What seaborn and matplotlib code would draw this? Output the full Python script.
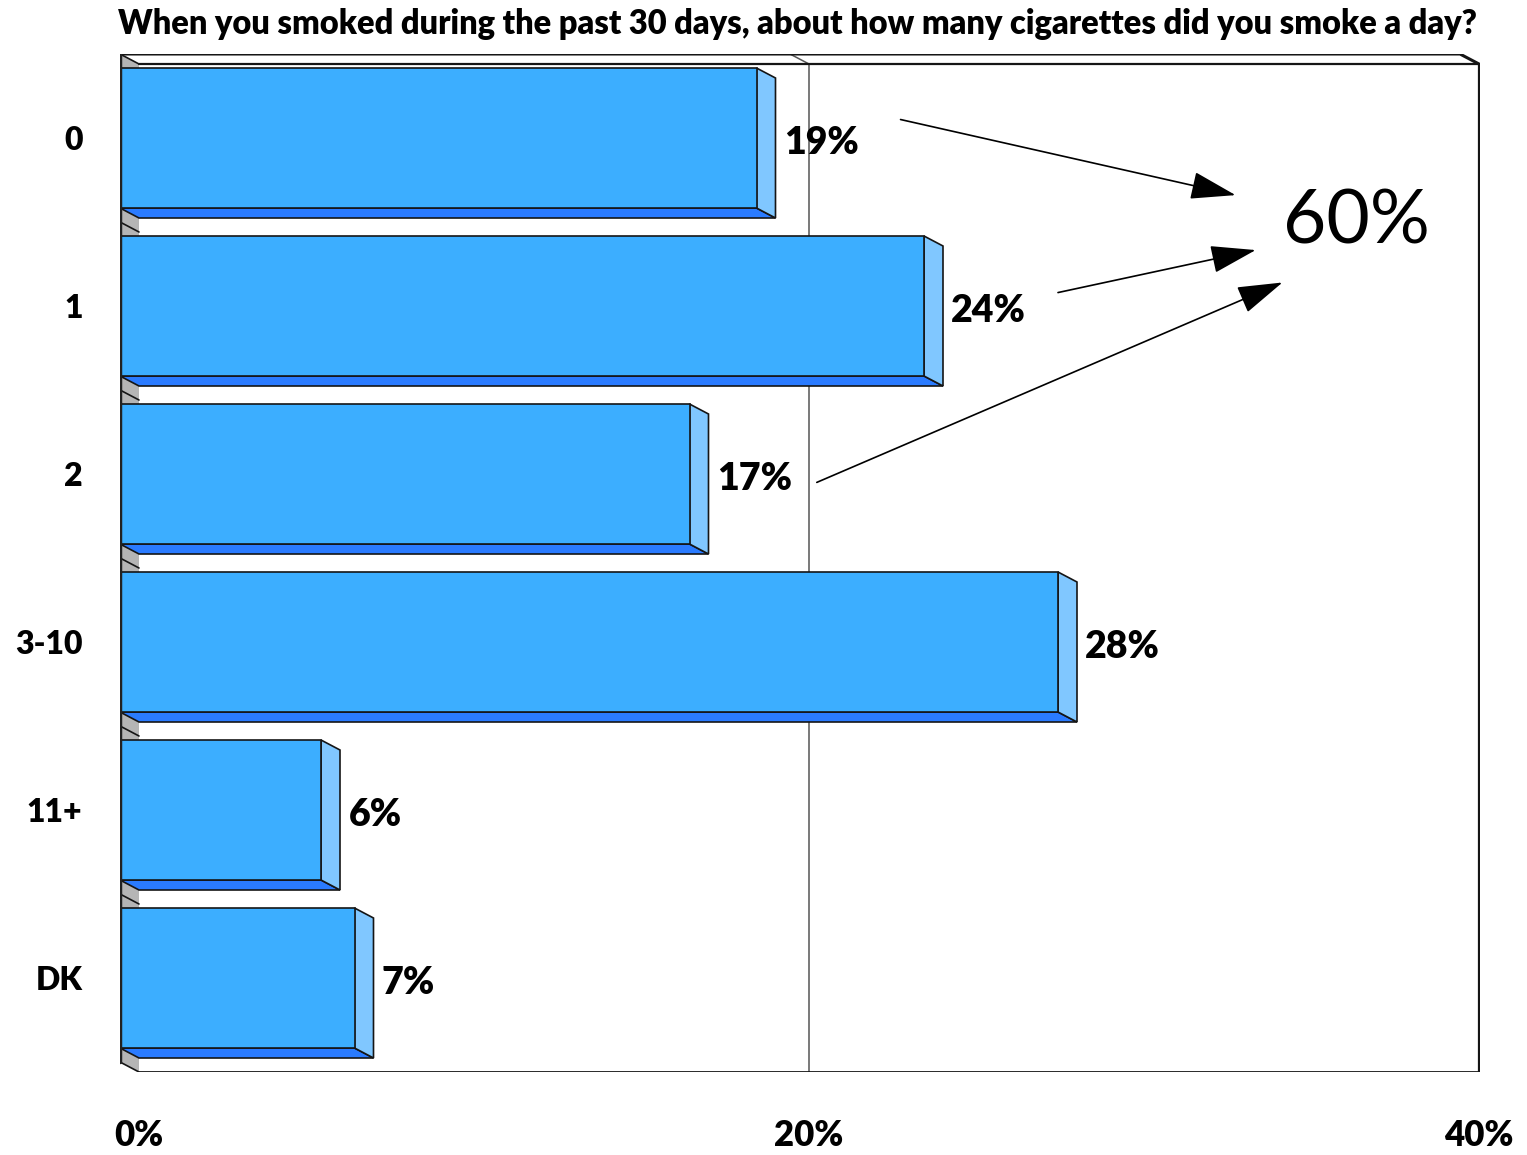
import matplotlib
matplotlib.use('Agg')
import matplotlib.pyplot as plt
from matplotlib.patches import Polygon
import numpy as np
import pandas as pd
import seaborn as sns

# data
cats = ['0', '1', '2', '3-10', '11+', 'DK']
pct = [19, 24, 17, 28, 6, 7]
xtick_vals = [0, 20, 40]
xtick_labels = ['0%', '20%', '40%']
title = 'When you smoked during the past 30 days, about how many cigarettes did you smoke a day?'
total_label = '60%'

df = pd.DataFrame({'cat': cats, 'pct': pct})

sns.set_style('white')
plt.rcParams['font.family'] = ['Lato', 'DejaVu Sans']
plt.rcParams['text.color'] = 'black'
plt.rcParams['xtick.color'] = 'black'
plt.rcParams['ytick.color'] = 'black'

W, H = 1527, 1155
fig = plt.figure(figsize=(W / 100, H / 100), dpi=100)

# axes box in pixels (front plane 0..40 at 120..1460, depth pushes +19px right, +10px down)
px_left, px_right, px_top, px_bot = 120, 1480, 54, 1072
ax = fig.add_axes([px_left / W, 1 - px_bot / H, (px_right - px_left) / W, (px_bot - px_top) / H])

xmax = 40
px_per_unit = 1340 / xmax
slot_px = 168
dx = 19 / px_per_unit
dy = 10 / slot_px

front = '#3CAEFF'
bottom_c = '#2A7BFF'
side_c = '#80C7FF'
wall_c = '#B5B5B5'
edge = '#151515'

sns.barplot(data=df, x='pct', y='cat', orient='h', color=front, width=140 / 168,
            edgecolor=edge, linewidth=1.2, saturation=1, ax=ax, zorder=4)
bars = list(ax.patches)

n = len(cats)
ylow = -0.5
yhigh = n - 0.5

# left wall
ax.add_patch(Polygon([(0, ylow), (dx, ylow + dy), (dx, yhigh + dy), (0, yhigh)],
                     closed=True, facecolor=wall_c, edgecolor='none', zorder=1))
for k in range(n + 1):
    ax.plot([0, dx], [k - 0.5, k - 0.5 + dy], color=edge, lw=1.2, zorder=1.5)
ax.plot([0, 0], [ylow, yhigh], color='#222222', lw=2.5, zorder=5)

# frame: front top edge, back wall outline
ax.plot([0, xmax, xmax + dx], [ylow, ylow, ylow + dy], color=edge, lw=2.2, zorder=1.5)
ax.plot([dx, xmax + dx, xmax + dx], [ylow + dy, ylow + dy, yhigh + dy], color=edge, lw=1.6, zorder=1.5)
ax.plot([dx, xmax + dx], [yhigh + dy, yhigh + dy], color=edge, lw=2.0, zorder=1.5)

# gridline at 20%
ax.plot([20, 20 + dx, 20 + dx], [ylow, ylow + dy, yhigh + dy], color='#555555', lw=1.1, zorder=1.2)

# 3D faces for each bar
for p in bars:
    x0, y0 = p.get_x(), p.get_y()
    w, h = p.get_width(), p.get_height()
    x1 = x0 + w
    yb = y0 + h
    ax.add_patch(Polygon([(x0, yb), (x1, yb), (x1 + dx, yb + dy), (x0 + dx, yb + dy)],
                         closed=True, facecolor=bottom_c, edgecolor=edge, lw=1.2, zorder=3))
    ax.add_patch(Polygon([(x1, y0), (x1 + dx, y0 + dy), (x1 + dx, yb + dy), (x1, yb)],
                         closed=True, facecolor=side_c, edgecolor=edge, lw=1.2, zorder=3))

# value labels
for i, v in enumerate(pct):
    ax.text(v + dx + 0.25, i + dy / 2, f'{v}%', ha='left', va='center',
            fontsize=27, fontweight='heavy', color='black', zorder=6)

# arrows to the total
arrow_tips = [(33.3, 0.34), (33.9, 0.667), (34.7, 0.86)]
arrow_starts = [(23.3, -0.11), (28.0, 0.92), (20.8, 2.05)]
for s, t in zip(arrow_starts, arrow_tips):
    ax.annotate('', xy=t, xytext=s,
                arrowprops=dict(arrowstyle='-|>,head_length=1.3,head_width=0.4',
                                color='black', lw=1.2, mutation_scale=22, shrinkA=0, shrinkB=0),
                zorder=6)
ax.text(36.9, 0.5, total_label, ha='center', va='center', fontsize=54, color='black', zorder=6)

ax.set_xlim(0, xmax * (px_right - px_left) / 1340)
ax.set_ylim(ylow + (px_bot - px_top) / slot_px, ylow)
ax.set_xticks([v + dx for v in xtick_vals])
ax.set_xticklabels(xtick_labels, fontsize=25, fontweight='heavy')
ax.tick_params(axis='x', length=0, pad=34)
ax.tick_params(axis='y', length=0, pad=27)
for lab in ax.get_yticklabels():
    lab.set_fontsize(23)
    lab.set_fontweight('heavy')
ax.set_xlabel('')
ax.set_ylabel('')
for s in ax.spines.values():
    s.set_visible(False)

fig.text(798 / W, 1 - 24 / H, title, ha='center', va='center', fontsize=23.5, fontweight='heavy')

fig.savefig('out.png', dpi=100, facecolor='white')
